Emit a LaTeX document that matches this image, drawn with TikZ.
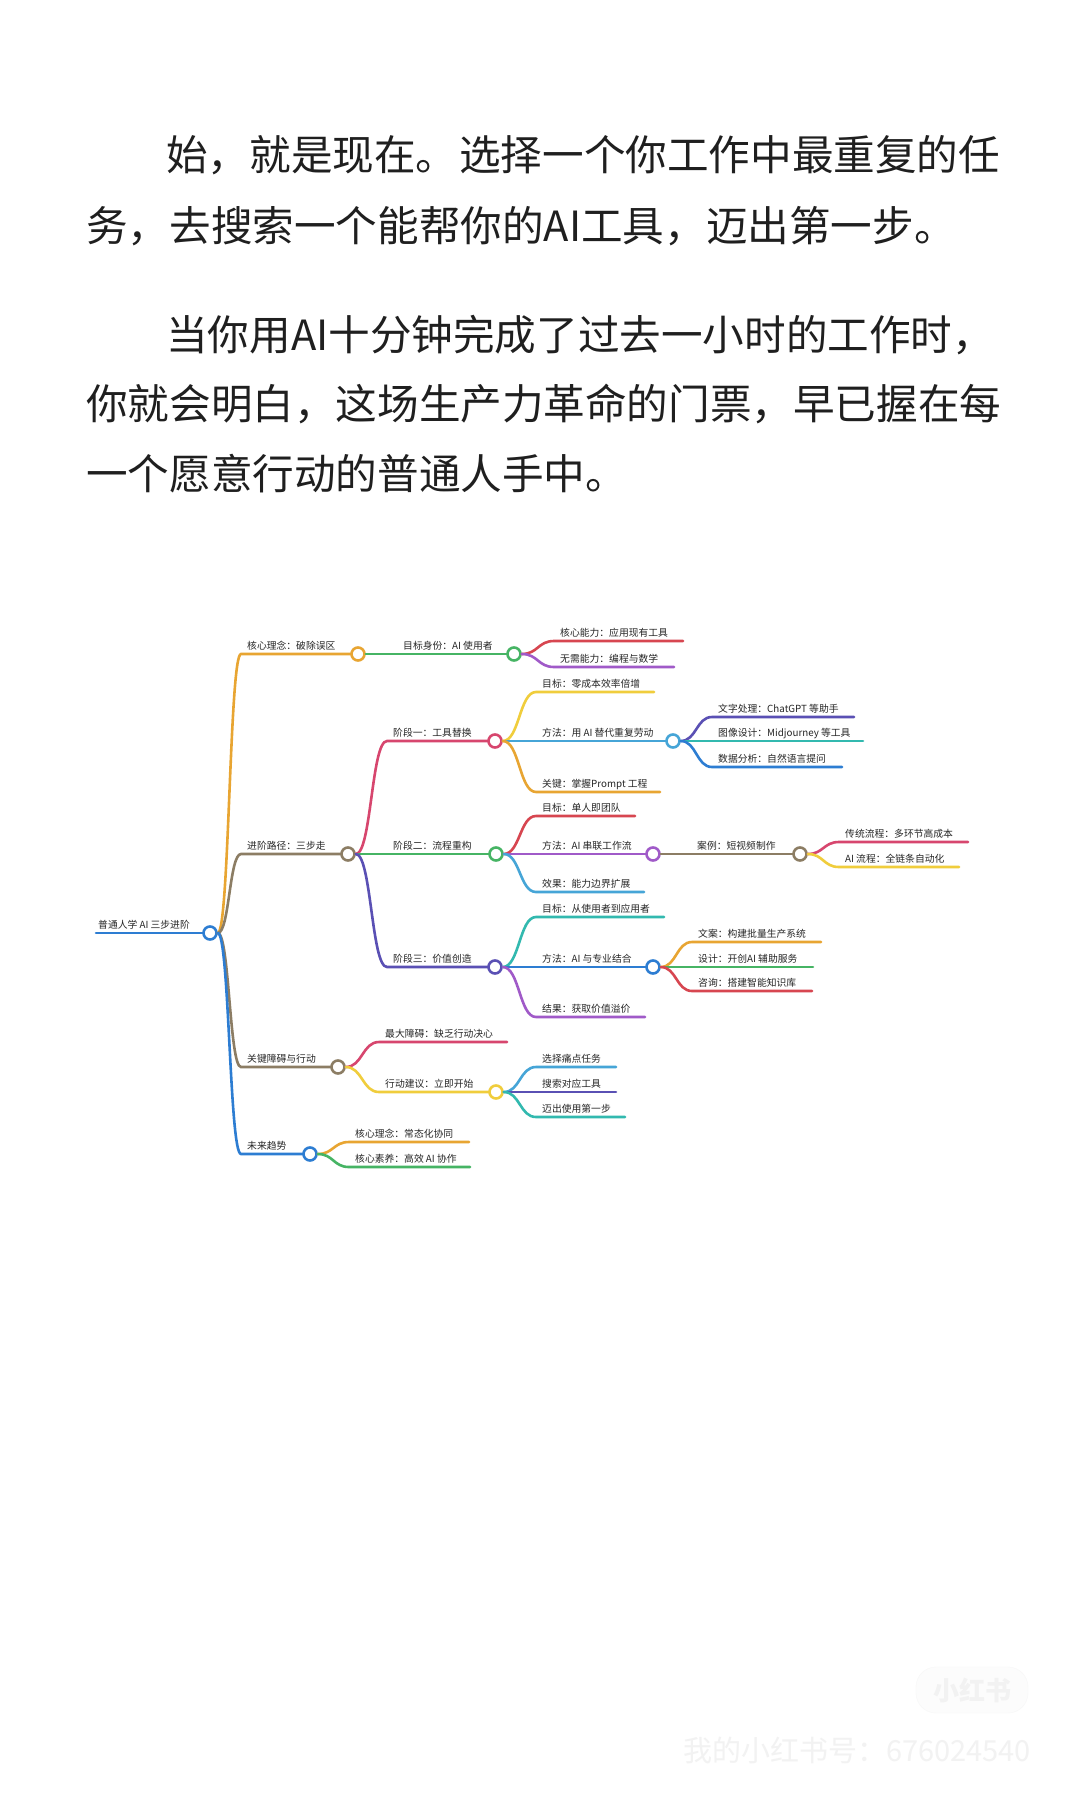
\documentclass[tikz,border=0pt]{standalone}
\usepackage{fontspec}
\setmainfont{Noto Sans CJK SC}
\usetikzlibrary{calc}
\definecolor{mmblue}{RGB}{45,125,210}
\definecolor{mmorange}{RGB}{232,165,50}
\definecolor{mmgreen}{RGB}{70,180,100}
\definecolor{mmred}{RGB}{215,70,80}
\definecolor{mmcrimson}{RGB}{215,70,110}
\definecolor{mmpurple}{RGB}{160,90,200}
\definecolor{mmbrown}{RGB}{140,125,100}
\definecolor{mmyellow}{RGB}{240,205,60}
\definecolor{mmcyan}{RGB}{70,165,215}
\definecolor{mmindigo}{RGB}{90,80,180}
\definecolor{mmteal}{RGB}{50,185,175}

\begin{document}
\begin{tikzpicture}[x=1pt,y=-1pt,
  para/.style={anchor=west,inner sep=0,text=black!88,font=\fontsize{41.6}{42}\selectfont},
  mmline/.style={line width=2.6pt,line cap=round},
  mmlabel/.style={anchor=base west,inner sep=0,text=black!85,font=\fontsize{9.8}{10}\selectfont},
  mmdot/.style={circle,fill=white,line width=2.6pt,minimum size=13pt,inner sep=0}]
  \fill[white] (0,0) rectangle (1080,1800);
  \useasboundingbox (0,0) rectangle (1080,1800);
  % text above the map
  \node[para] (p1) at (166,155) {\spaceskip=2pt 始，就是现在。 选择一个你工作中最重复的任};
  \node[para] (p2) at (86,226) {务，去搜索一个能帮你的AI工具，迈出第一步。};
  \node[para] (p3) at (166,335) {当你用AI十分钟完成了过去一小时的工作时，};
  \node[para] (p4) at (86,404) {你就会明白，这场生产力革命的门票，早已握在每};
  \node[para] (p5) at (86,474) {一个愿意行动的普通人手中。};
  % root
  \coordinate (rt-s) at (96,933);
  \draw[mmline,draw=mmblue] (rt-s) -- (210,933);
  \node[mmlabel] (rt-t) at (98,928) {普通人学 AI 三步进阶};
  \node[mmdot,draw=mmblue] (rt) at (210,933) {};
  % branches: name/parent/colour/label x/line y/line end/has dot/text
  \foreach \nm/\pa/\col/\lx/\ly/\le/\hc/\txt in {
    c1/rt/mmorange/247/654/358/1/核心理念：破除误区,
    c1a/c1/mmgreen/403/654/514/1/目标身份：AI 使用者,
    c1a1/c1a/mmred/560/641/683/0/核心能力：应用现有工具,
    c1a2/c1a/mmpurple/560/667/674/0/无需能力：编程与数学,
    c2/rt/mmbrown/247/854/348/1/进阶路径：三步走,
    c2a/c2/mmcrimson/393/741/495/1/阶段一：工具替换,
    c2a1/c2a/mmyellow/542/692/654/0/目标：零成本效率倍增,
    c2a2/c2a/mmcyan/542/741/673/1/方法：用 AI 替代重复劳动,
    c2a2a/c2a2/mmindigo/718/717/854/0/文字处理：ChatGPT 等助手,
    c2a2b/c2a2/mmteal/718/741/863/0/图像设计：Midjourney 等工具,
    c2a2c/c2a2/mmblue/718/767/842/0/数据分析：自然语言提问,
    c2a3/c2a/mmorange/542/792/660/0/关键：掌握Prompt 工程,
    c2b/c2/mmgreen/393/854/496/1/阶段二：流程重构,
    c2b1/c2b/mmred/542/816/635/0/目标：单人即团队,
    c2b2/c2b/mmpurple/542/854/653/1/方法：AI 串联工作流,
    c2b2a/c2b2/mmbrown/697/854/800/1/案例：短视频制作,
    c2b2a1/c2b2a/mmcrimson/845/842/968/0/传统流程：多环节高成本,
    c2b2a2/c2b2a/mmyellow/845/867/959/0/AI 流程：全链条自动化,
    c2b3/c2b/mmcyan/542/892/644/0/效果：能力边界扩展,
    c2c/c2/mmindigo/393/967/495/1/阶段三：价值创造,
    c2c1/c2c/mmteal/542/917/664/0/目标：从使用者到应用者,
    c2c2/c2c/mmblue/542/967/653/1/方法：AI 与专业结合,
    c2c2a/c2c2/mmorange/698/942/821/0/文案：构建批量生产系统,
    c2c2b/c2c2/mmgreen/698/967/813/0/设计：开创AI 辅助服务,
    c2c2c/c2c2/mmred/698/991/812/0/咨询：搭建智能知识库,
    c2c3/c2c/mmpurple/542/1017/645/0/结果：获取价值溢价,
    c3/rt/mmbrown/247/1067/338/1/关键障碍与行动,
    c3a/c3/mmcrimson/385/1042/507/0/最大障碍：缺乏行动决心,
    c3b/c3/mmyellow/385/1092/496/1/行动建议：立即开始,
    c3b1/c3b/mmcyan/542/1067/616/0/选择痛点任务,
    c3b2/c3b/mmindigo/542/1092/616/0/搜索对应工具,
    c3b3/c3b/mmteal/542/1117/625/0/迈出使用第一步,
    c4/rt/mmblue/247/1154/310/1/未来趋势,
    c4a/c4/mmorange/355/1142/469/0/核心理念：常态化协同,
    c4b/c4/mmgreen/355/1167/470/0/核心素养：高效 AI 协作}{
    \coordinate (\nm-s) at (\lx-6,\ly);
    \coordinate (\nm-m) at ($(\pa.east)!.5!(\nm-s)$);
    \draw[mmline,draw=\col] (\pa.east) .. controls (\nm-m |- \pa.east) and (\nm-m |- \nm-s) .. (\nm-s) -- (\le,\ly) coordinate (\nm);
    \node[mmlabel] (\nm-t) at (\lx,\ly-5) {\txt};
    \ifnum\hc=1 \node[mmdot,draw=\col] (\nm) at (\le,\ly) {}; \fi
  }
  % faint watermark
  \node[draw=black!3,fill=black!1,rounded corners=20pt,minimum width=112pt,minimum height=46pt,
    text=black!5,font=\fontsize{26}{26}\selectfont\bfseries] (logo) at (972,1690) {小红书};
  \node[anchor=west,inner sep=0,text=black!5,font=\fontsize{29}{29}\selectfont] (wm) at (683,1750) {我的小红书号：676024540};
\end{tikzpicture}
\end{document}
